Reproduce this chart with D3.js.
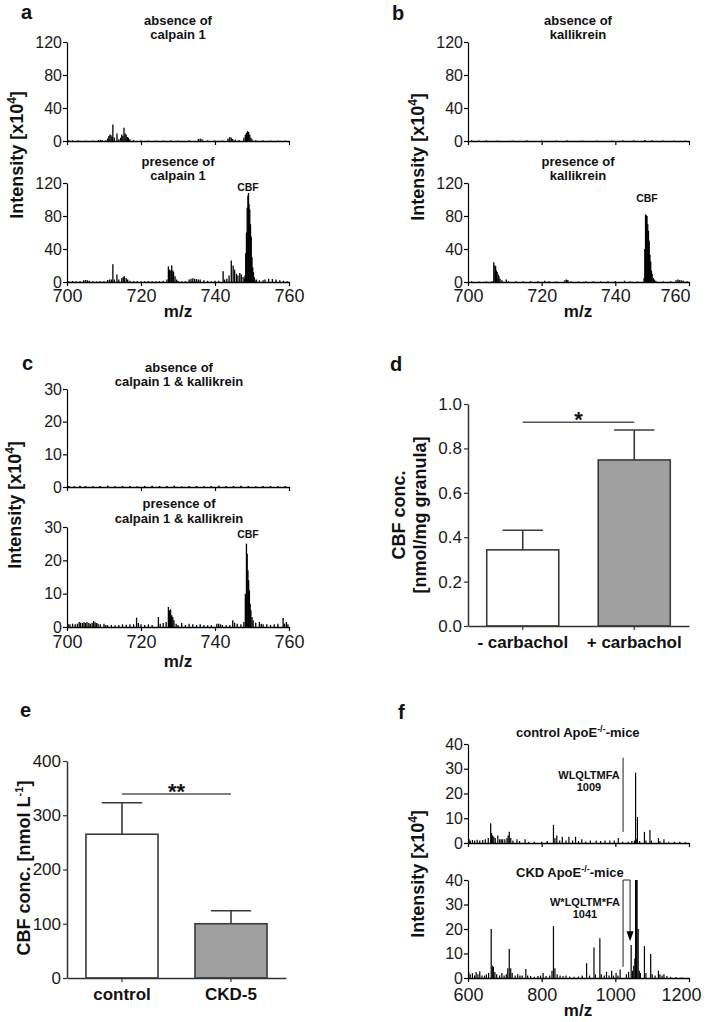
<!DOCTYPE html>
<html><head><meta charset="utf-8">
<script src="https://cdn.jsdelivr.net/npm/d3@7"></script>
<style>
body{margin:0;background:#fff;}
svg{display:block;background:#fff;}
</style></head><body>
<svg id="fig" width="709" height="1022"></svg>
<script>
// ---------------- DATA ----------------
const specTicksMz = [700, 720, 740, 760];
const specTicksInt120 = [0, 40, 80, 120];
const specTicksInt30 = [0, 10, 20, 30];
const fTicksMz = [600, 800, 1000, 1200];
const fTicksInt = [0, 10, 20, 30, 40];

// panel a: [m/z, intensity x10^4]
const aAbsence = [[700.5,1],[701.5,0.8],[703,0.6],[705,0.5],[707,0.5],[708.5,1],[709,1.5],[709.5,1.2],[710.5,1],[711,3],[711.3,6],[711.6,8],[711.9,7],[712.2,5],[712.4,20],[712.8,4],[713.5,9],[714,2],[714.5,4],[714.8,8],[715.1,6],[715.4,16],[715.7,9],[716,8],[716.3,5],[716.6,4],[717,2],[718,1],[720,0.5],[722,0.6],[724,0.5],[726,0.6],[728,0.8],[730,0.6],[733,0.8],[735.5,2.5],[736,3],[736.5,2],[738,0.8],[740,0.6],[742,0.8],[743.5,3],[744,5],[744.4,4],[744.8,2.5],[745.5,1.5],[746.5,1],[747.8,4],[748.2,8],[748.5,10],[748.8,12],[749.1,11],[749.4,8],[749.7,4],[750,2],[751,1],[753,0.8],[755,0.6],[757,0.5],[759,0.5]];
const aPresence = [[700.5,1],[701.5,1.2],[702.5,0.8],[703.5,1],[704.5,2],[705,2.5],[705.5,2],[706,1.5],[707,1],[708,0.8],[709,1],[710,1],[711,2.5],[711.5,3],[712,3],[712.4,21.5],[712.8,3],[713.5,9],[714,3],[714.8,5],[715.2,6],[715.5,7],[716,5],[716.4,3],[717,1.5],[718,1],[719,0.8],[720,1],[721,0.8],[722,1],[723,0.8],[724,1],[725,1],[726,1.5],[727,3],[727.4,19],[727.7,15],[727.9,14],[728.3,20],[728.6,14],[728.8,12],[729.2,7],[729.6,3],[730,1.5],[731,1],[732,1],[733,3],[733.5,4],[734,4.5],[734.5,4],[735,3.5],[735.5,3],[736,3],[737,2],[738,1.5],[739,1],[740,1.5],[741,1.5],[742.2,13],[742.6,3],[743.2,4],[743.8,8],[744.4,26],[744.9,20],[745.3,15],[745.8,10],[746.2,8],[746.7,11],[747.1,9],[747.6,6],[748,4],[748.1,8],[748.3,35],[748.5,60],[748.7,90],[748.9,105],[749.05,108],[749.2,95],[749.4,88],[749.6,70],[749.8,55],[750,30],[750.2,18],[750.4,12],[750.6,6],[750.8,3],[751.2,3],[752,2],[753,2],[753.5,3],[754.5,4],[755.5,3.5],[756.5,3],[757.5,2],[758.5,1.5],[759.5,1]];

// panel b
const bAbsence = [[701,1],[703,0.5],[705,0.8],[708,0.6],[712,0.5],[716,0.8],[720,0.5],[724,0.6],[727,0.8],[731,0.5],[735,0.6],[739,0.5],[742,0.8],[745,1],[748,1.2],[750,1],[753,0.6],[756,0.5],[759,0.5]];
const bPresence = [[701,0.8],[703,0.6],[705,0.8],[706.5,1],[707,24],[707.3,20],[707.5,19],[707.7,14],[707.9,12],[708.2,9],[708.4,7],[708.7,4],[709.2,2],[710.4,3],[711,1],[713,0.8],[715,0.8],[717,1],[719,0.8],[720.8,1.5],[722,0.8],[724,0.8],[726.3,2],[726.7,3],[727.1,2.5],[728,1],[730,0.8],[732,1],[734,0.8],[736,0.8],[738,1],[740,0.8],[742.5,1.5],[744,1],[746,0.8],[747.8,5],[748,40],[748.2,82],[748.4,81],[748.6,80],[748.8,70],[749,62],[749.2,50],[749.4,33],[749.6,25],[749.8,14],[750,10],[750.3,5],[750.6,3],[751,1.5],[753,1],[755,1],[756.5,2],[757,3],[757.5,2.5],[758,2],[758.5,1.5],[759.5,1]];

// panel c
const cAbsence = [[700.5,0.3],[702,0.2],[703.5,0.4],[705,0.3],[707,0.2],[709,0.3],[711,0.4],[713,0.2],[715,0.3],[717,0.3],[719,0.2],[721,0.3],[723,0.4],[725,0.3],[727,0.3],[729,0.4],[731,0.2],[733,0.3],[735,0.3],[737,0.2],[739,0.3],[741,0.4],[743,0.3],[745,0.3],[747,0.4],[749,0.3],[751,0.2],[753,0.3],[755,0.3],[757,0.2],[759,0.3]];
const cPresence = [[700.3,1],[700.8,0.8],[701.5,1],[702.2,0.8],[702.8,1],[703.3,1.5],[703.7,1.3],[704.2,1.2],[704.6,1.4],[705,1.2],[705.4,1.5],[705.9,1.2],[706.3,1],[706.8,1.3],[707.2,1.8],[707.6,1.4],[708,1.2],[708.4,1],[709,0.8],[710,1],[710.5,0.6],[711,0.5],[712,0.6],[713,0.5],[714,0.6],[715,0.8],[716,0.7],[717,0.8],[718,0.8],[718.8,2.8],[719.3,1.2],[720,0.8],[721,0.6],[722,0.8],[723,0.6],[724.7,3],[725.2,1],[726,1.2],[726.8,1.5],[727.4,6],[727.7,5],[728,5.3],[728.3,3.5],[728.6,3],[728.9,2],[729.5,1],[730,0.6],[731,1.2],[732,0.6],[733,1],[734,0.8],[735,0.6],[736,0.8],[737,0.6],[738,0.5],[739,0.5],[740.5,1],[741,1],[741.5,0.8],[742,0.6],[743,0.5],[744,0.6],[744.8,2],[745.3,1.3],[746,1],[747,0.8],[747.8,1.5],[748.2,10],[748.5,25],[748.7,22],[748.9,17],[749.1,14],[749.3,11],[749.5,7],[749.7,5],[750,3],[750.3,2],[751,1.3],[752,1.5],[752.5,1],[753,0.8],[754,0.8],[755,0.6],[756,0.8],[757,1],[758.4,2.7],[758.8,1],[759.3,1.5],[759.7,0.8]];

// panel d
const dCategories = ['- carbachol', '+ carbachol'];
const dMeans = [0.343, 0.748];
const dSem = [0.088, 0.135];
const dTicks = [0, 0.2, 0.4, 0.6, 0.8, 1.0];
const dSigLevel = 0.918;

// panel e
const eCategories = ['control', 'CKD-5'];
const eMeans = [265, 100];
const eSem = [58, 24];
const eTicks = [0, 100, 200, 300, 400];
const eSigLevel = 339;

// panel f
const fControl = [[603,1.5],[606,1],[612,1.2],[618,1],[625,1.3],[632,1],[640,1.2],[647,1.5],[655,2],[661.6,8],[664,4],[667,3],[670,2.5],[674,2],[681,3],[686,1.5],[690,1.5],[694,1.5],[700,1.5],[706,2],[709,3],[712,4.5],[716,2],[722,1],[733,1.5],[740,0.8],[755,1.5],[765,0.5],[780,0.5],[800,0.5],[815,0.8],[832,7.3],[836,2],[841,3],[849,1],[856,2.5],[866,1],[874,2.5],[884,1],[892,2.5],[900,0.8],[909,1.5],[920,0.5],[932,1],[948,1],[960,0.8],[972,1],[985,1],[997,1],[1008,2],[1020,0.5],[1035,0.5],[1045,0.8],[1052,1],[1055,28.4],[1057,1.5],[1060,10.5],[1066,0.8],[1079,4.5],[1083,1],[1094,5.3],[1098,1],[1117,2],[1121,0.8],[1132,1.5],[1145,0.5],[1160,0.5],[1175,0.5],[1190,0.3]];
const fCKD = [[602,2.5],[606,1.5],[612,2],[618,1],[622,2.5],[627,1.5],[632,2.8],[638,1],[645,1],[650,1.5],[656,2],[663,20],[666,5],[669,4.6],[673,2.5],[678,1.5],[686,1],[692,2],[698,1],[704,1.5],[708,4],[712,11.8],[716,4],[720,2],[728,1],[735,1.5],[741,1],[747,1],[757,3.7],[762,1],[770,0.8],[780,0.5],[790,0.8],[797,1],[804,2],[812,0.8],[822,1],[828,3],[832,21.2],[836,4],[842,1.5],[850,1],[858,0.8],[866,1],[876,0.6],[888,0.5],[900,0.6],[910,1],[922,6],[930,1],[942,12.4],[946,1.5],[958,16.2],[962,1.5],[970,1],[976,2.5],[983,1],[990,3],[995,1],[1002,2],[1007,1],[1013,3.5],[1030,1.5],[1036,2.5],[1043,13.5],[1047,3],[1050,5],[1053,8],[1055,40],[1057,40],[1059,40],[1062,20],[1065,3],[1068,2],[1079,13],[1083,2],[1096,9.8],[1100,1.5],[1108,1],[1117,3],[1121,1.5],[1127,1],[1132,1.5],[1140,0.8],[1150,0.5],[1165,0.4],[1180,0.3]];
const fMarkControl = {mz: 1021, from: 4.5, to: 34.5};
const fMarkCKD = {mzLeft: 1021, mzRight: 1040, bottom: 4.6, top: 40, tip: 15};

// ---------------- DRAWING ----------------
const FONT = 'Arial, "Liberation Sans", Helvetica, sans-serif';
const svg = d3.select('#fig').attr('font-family', FONT);

function txt(x, y, s, o = {}) {
  return svg.append('text').attr('x', x).attr('y', y)
    .attr('text-anchor', o.anchor || 'middle')
    .attr('font-size', o.size || 13)
    .attr('font-weight', o.weight || 'bold')
    .attr('fill', o.fill || '#111')
    .text(s);
}

function styleAxis(sel, fs, col, w) {
  sel.attr('font-family', FONT);
  sel.select('.domain').attr('stroke', col || '#000').attr('stroke-width', w || 1.2);
  sel.selectAll('.tick line').attr('stroke', col || '#000').attr('stroke-width', 1.2);
  sel.selectAll('.tick text').attr('fill', '#1a1a1a').attr('font-size', fs);
}

function spectrum(data, c) {
  const g = svg.append('g');
  const x = d3.scaleLinear().domain(c.xDomain).range([c.left, c.right]);
  const y = d3.scaleLinear().domain([0, c.yMax]).range([c.bottom, c.top]);
  g.selectAll('line').data(data).join('line')
    .attr('x1', d => x(d[0])).attr('x2', d => x(d[0]))
    .attr('y1', y(0)).attr('y2', d => y(Math.min(d[1], c.yMax)))
    .attr('stroke', '#000').attr('stroke-width', c.sw || 1.3);
  const ya = g.append('g').attr('transform', `translate(${c.left},0)`)
    .call(d3.axisLeft(y).tickValues(c.yTicks).tickSize(4).tickPadding(1).tickSizeOuter(0));
  styleAxis(ya, 16);
  const xa = d3.axisBottom(x).tickValues(c.xTicks).tickSize(4).tickSizeOuter(0).tickFormat(d3.format('d'));
  if (!c.xLabels) xa.tickFormat('');
  const xg = g.append('g').attr('transform', `translate(0,${c.bottom})`).call(xa);
  styleAxis(xg, 18, '#000', 1.6);
  if (c.xLabels) {
    xg.selectAll('.tick text').attr('dy', 0).attr('y', c.labelBaseline - c.bottom);
    if (c.lastEnd !== undefined) {
      xg.selectAll('.tick text').filter((d, i, n) => i === n.length - 1)
        .attr('text-anchor', 'end').attr('x', c.lastEnd - c.right);
    }
  }
  return {x, y};
}

function intensityLabel(cy, b) {
  const t = svg.append('text').attr('transform', `translate(${b},${cy}) rotate(-90)`)
    .attr('text-anchor', 'middle').attr('font-size', 18).attr('font-weight', 'bold').attr('fill', '#111');
  t.append('tspan').text('Intensity [x10');
  t.append('tspan').attr('dy', -7).attr('font-size', 12).text('4');
  t.append('tspan').attr('dy', 7).text(']');
}

// ---- Panel a ----
txt(21, 19, 'a', {anchor: 'start', size: 20});
txt(178, 25, 'absence of'); txt(178, 39, 'calpain 1');
spectrum(aAbsence, {left: 67, right: 289, bottom: 141, top: 42, xDomain: [700, 760], yMax: 120, yTicks: specTicksInt120, xTicks: specTicksMz, xLabels: false});
txt(178, 166, 'presence of'); txt(178, 180, 'calpain 1');
spectrum(aPresence, {left: 67, right: 289, bottom: 282, top: 183, xDomain: [700, 760], yMax: 120, yTicks: specTicksInt120, xTicks: specTicksMz, xLabels: true, labelBaseline: 302});
txt(248, 191, 'CBF', {size: 10.5});
txt(178, 317, 'm/z', {size: 17});
intensityLabel(155, 23);

// ---- Panel b ----
txt(392, 20, 'b', {anchor: 'start', size: 20});
txt(578, 25, 'absence of'); txt(578, 39, 'kallikrein');
spectrum(bAbsence, {left: 468, right: 689, bottom: 141, top: 42, xDomain: [700, 760], yMax: 120, yTicks: specTicksInt120, xTicks: specTicksMz, xLabels: false});
txt(578, 166, 'presence of'); txt(578, 180, 'kallikrein');
spectrum(bPresence, {left: 468, right: 689, bottom: 282, top: 183, xDomain: [700, 760], yMax: 120, yTicks: specTicksInt120, xTicks: specTicksMz, xLabels: true, labelBaseline: 302, lastEnd: 690});
txt(647, 202, 'CBF', {size: 10.5});
txt(578, 317, 'm/z', {size: 17});
intensityLabel(157, 424);

// ---- Panel c ----
txt(22, 370, 'c', {anchor: 'start', size: 20});
txt(179, 372, 'absence of'); txt(179, 386, 'calpain 1 & kallikrein');
spectrum(cAbsence, {left: 67, right: 289, bottom: 487, top: 389, xDomain: [700, 760], yMax: 30, yTicks: specTicksInt30, xTicks: specTicksMz, xLabels: false, sw: 1.6});
txt(179, 508, 'presence of'); txt(179, 523, 'calpain 1 & kallikrein');
spectrum(cPresence, {left: 67, right: 289, bottom: 627, top: 527, xDomain: [700, 760], yMax: 30, yTicks: specTicksInt30, xTicks: specTicksMz, xLabels: true, labelBaseline: 648});
txt(248, 538, 'CBF', {size: 10.5});
txt(178, 667, 'm/z', {size: 17});
intensityLabel(505, 21);

// ---- bar chart helper ----
function barChart(cats, means, sems, c) {
  const g = svg.append('g');
  const x = d3.scaleBand().domain(cats).range([c.left, c.right]).paddingInner(c.pi).paddingOuter(c.po);
  const y = d3.scaleLinear().domain([0, c.yMax]).range([c.bottom, c.top]);
  const rows = cats.map((k, i) => ({k, m: means[i], s: sems[i], fill: c.fills[i]}));
  const col = '#3a3a3a';
  g.selectAll('line.err').data(rows).join('line')
    .attr('x1', d => x(d.k) + x.bandwidth() / 2).attr('x2', d => x(d.k) + x.bandwidth() / 2)
    .attr('y1', d => y(d.m)).attr('y2', d => y(d.m + d.s))
    .attr('stroke', col).attr('stroke-width', 1.6);
  g.selectAll('line.cap').data(rows).join('line')
    .attr('x1', d => x(d.k) + x.bandwidth() * 0.22).attr('x2', d => x(d.k) + x.bandwidth() * 0.78)
    .attr('y1', d => y(d.m + d.s)).attr('y2', d => y(d.m + d.s))
    .attr('stroke', col).attr('stroke-width', 1.6);
  g.selectAll('rect').data(rows).join('rect')
    .attr('x', d => x(d.k)).attr('width', x.bandwidth())
    .attr('y', d => y(d.m)).attr('height', d => y(0) - y(d.m))
    .attr('fill', d => d.fill).attr('stroke', col).attr('stroke-width', 1.6);
  const ya = g.append('g').attr('transform', `translate(${c.left},0)`)
    .call(d3.axisLeft(y).tickValues(c.yTicks).tickFormat(c.fmt).tickSize(4).tickPadding(2).tickSizeOuter(0));
  styleAxis(ya, 17, '#333', 1.5);
  const xa = g.append('g').attr('transform', `translate(0,${c.bottom})`)
    .call(d3.axisBottom(x).tickSize(4).tickSizeOuter(0));
  styleAxis(xa, 17, '#333', 1.5);
  xa.selectAll('.tick text').attr('font-weight', 'bold').attr('fill', '#111').attr('dy', 0).attr('y', c.labelBaseline - c.bottom);
  const cx = cats.map(k => x(k) + x.bandwidth() / 2);
  g.append('line').attr('x1', cx[0]).attr('x2', cx[1]).attr('y1', y(c.sig)).attr('y2', y(c.sig))
    .attr('stroke', '#555').attr('stroke-width', 1.5);
  g.append('text').attr('x', (cx[0] + cx[1]) / 2).attr('y', y(c.sig) + 5).attr('text-anchor', 'middle')
    .attr('font-size', 22).attr('font-weight', 'bold').attr('fill', '#111').text(c.sigText);
  return {x, y};
}

// ---- Panel d ----
txt(390, 371, 'd', {anchor: 'start', size: 20});
barChart(dCategories, dMeans, dSem, {left: 468, right: 689, bottom: 626, top: 404, yMax: 1.0, yTicks: dTicks, fmt: d3.format('.1f'), pi: 0.354, po: 0.168, fills: ['#ffffff', '#a0a0a0'], labelBaseline: 648, sig: dSigLevel, sigText: '*'});
svg.append('text').attr('transform', 'translate(405,515) rotate(-90)').attr('text-anchor', 'middle')
  .attr('font-size', 18).attr('font-weight', 'bold').attr('fill', '#111').text('CBF conc.');
svg.append('text').attr('transform', 'translate(426,515) rotate(-90)').attr('text-anchor', 'middle')
  .attr('font-size', 18).attr('font-weight', 'bold').attr('fill', '#111').text('[nmol/mg granula]');

// ---- Panel e ----
txt(20, 717, 'e', {anchor: 'start', size: 20});
barChart(eCategories, eMeans, eSem, {left: 67, right: 286, bottom: 978, top: 761, yMax: 400, yTicks: eTicks, fmt: d3.format('d'), pi: 0.339, po: 0.174, fills: ['#ffffff', '#a0a0a0'], labelBaseline: 1000, sig: eSigLevel, sigText: '**'});
{
  const t = svg.append('text').attr('transform', 'translate(30,868) rotate(-90)').attr('text-anchor', 'middle')
    .attr('font-size', 18).attr('font-weight', 'bold').attr('fill', '#111');
  t.append('tspan').text('CBF conc. [nmol L');
  t.append('tspan').attr('dy', -7).attr('font-size', 11).text('-1');
  t.append('tspan').attr('dy', 7).text(']');
}

// ---- Panel f ----
txt(398, 719, 'f', {anchor: 'start', size: 20});
function supTitle(x, y, pre) {
  const t = svg.append('text').attr('x', x).attr('y', y).attr('font-size', 13).attr('font-weight', 'bold').attr('fill', '#111');
  t.append('tspan').text(pre + ' ApoE');
  t.append('tspan').attr('dy', -5).attr('font-size', 9).text('-/-');
  t.append('tspan').attr('dy', 5).text('-mice');
}
supTitle(516, 737, 'control');
const fu = spectrum(fControl, {left: 468, right: 689, bottom: 843, top: 744, xDomain: [600, 1200], yMax: 40, yTicks: fTicksInt, xTicks: fTicksMz, xLabels: false, sw: 1.2});
svg.append('line').attr('x1', fu.x(fMarkControl.mz)).attr('x2', fu.x(fMarkControl.mz))
  .attr('y1', fu.y(fMarkControl.from)).attr('y2', fu.y(fMarkControl.to)).attr('stroke', '#222').attr('stroke-width', 1);
txt(589, 779, 'WLQLTMFA', {size: 11});
txt(589, 791, '1009', {size: 11});

supTitle(516, 877, 'CKD');
const fl = spectrum(fCKD, {left: 468, right: 689, bottom: 978, top: 880, xDomain: [600, 1200], yMax: 40, yTicks: fTicksInt, xTicks: fTicksMz, xLabels: true, labelBaseline: 1001, lastEnd: 701, sw: 1.2});
{
  const xl = fl.x(fMarkCKD.mzLeft), xr = fl.x(fMarkCKD.mzRight);
  svg.append('path')
    .attr('d', `M${xl},${fl.y(fMarkCKD.bottom)} L${xl},${fl.y(fMarkCKD.top)} L${xr},${fl.y(fMarkCKD.top)} L${xr},${fl.y(fMarkCKD.tip) - 9}`)
    .attr('fill', 'none').attr('stroke', '#222').attr('stroke-width', 1);
  const tipY = fl.y(fMarkCKD.tip);
  svg.append('path').attr('d', `M${xr - 3.5},${tipY - 10} L${xr + 3.5},${tipY - 10} L${xr},${tipY} Z`).attr('fill', '#000');
}
txt(585, 906, 'W*LQLTM*FA', {size: 11});
txt(585, 918, '1041', {size: 11});
txt(578, 1016, 'm/z', {size: 17});
intensityLabel(874, 424);
</script>
</body></html>
